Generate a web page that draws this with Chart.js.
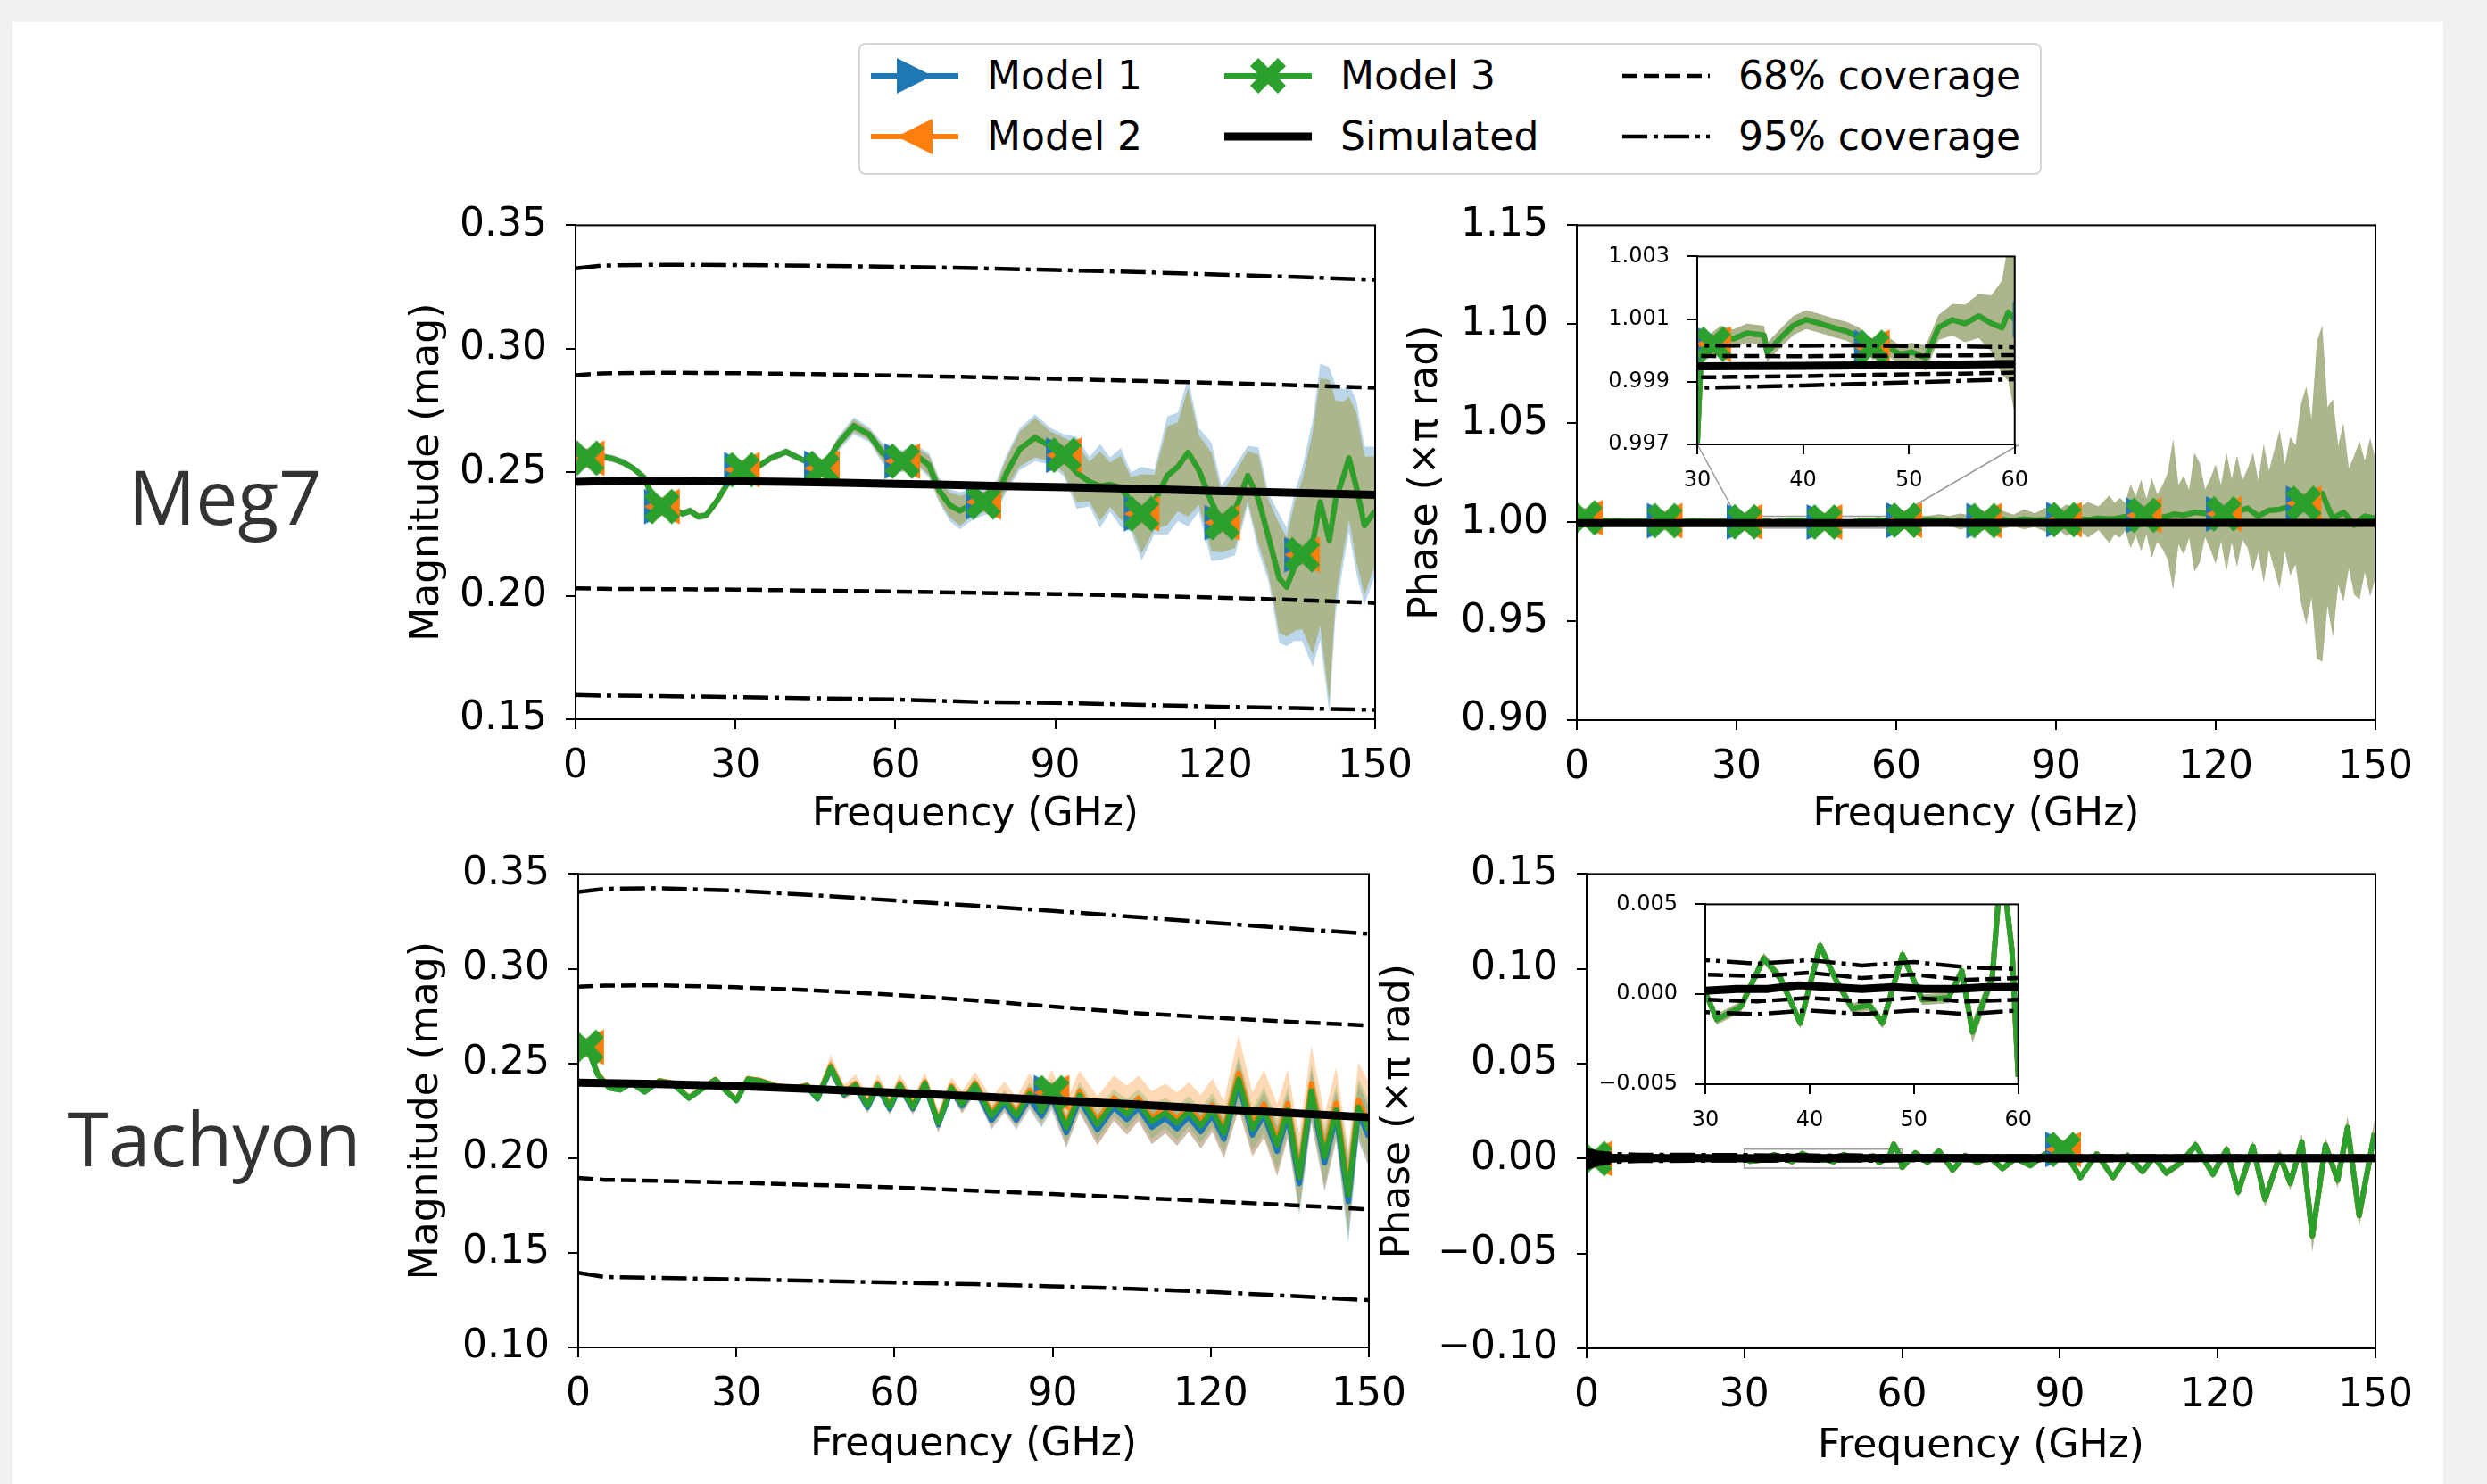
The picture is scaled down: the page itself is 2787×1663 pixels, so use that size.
<!DOCTYPE html>
<html lang="en">

<head>
    <meta charset="UTF-8">
    <title>Meg7 / Tachyon model comparison</title>
    <script src="https://cdn.jsdelivr.net/npm/chart.js"></script>
    <style>
        body { margin: 0; width: 2787px; height: 1663px; background: #f0f0f0; position: relative; overflow: hidden; font-family: "DejaVu Sans", sans-serif; }
        #sheet { position: absolute; left: 14px; top: 25px; width: 2724px; height: 1638px; background: #fff; }
        canvas.plot { position: absolute; }
        .rowlabel { position: absolute; font-family: "Open Sans", sans-serif; font-size: 84px; color: #333; transform: translate(-50%, -50%); white-space: nowrap; }
        #legend { position: absolute; left: 962px; top: 48px; width: 1322px; height: 144px; border: 2px solid #d6d6d6; border-radius: 8px; background: #fff; }
        #legend canvas { position: absolute; }
        #legend span { position: absolute; font-size: 44px; line-height: 1; transform: translateY(-50%); white-space: nowrap; color: #000; }
    </style>
</head>

<body>
    <div id="sheet"></div>
    <div class="rowlabel" style="left:252px; top:555px;">Meg7</div>
    <div class="rowlabel" style="left:240px; top:1274px;">Tachyon</div>
    <div id="legend"></div>

    <script>
        // ---- Meg7 magnitude (top left) ----
        const meg7MagFreq = [0, 2.1, 5, 7, 8.9, 10.8, 12.8, 14.7, 16.2, 18.1, 20.1, 21.5, 23, 24.5, 26.4, 28.4, 31.3, 34.2, 36.6, 39.5, 42.5, 46.4, 49.3, 52.2, 55.1, 57.5, 59.5, 61.4, 63.9, 66.3, 68.2, 70.2, 72.1, 74.1, 76.5, 79, 80.9, 83.3, 86.2, 89.1, 91.6, 94, 96.4, 98.4, 100.3, 102.3, 104.2, 106.2, 108.6, 111, 113, 114.9, 116.9, 119.3, 121.2, 123.7, 126.1, 128.1, 130, 132, 133.4, 134.9, 136.3, 138.3, 139.7, 141.4, 142.6, 144.1, 145.1, 146.5, 148, 150];
        const meg7MagModel3 = [0.258, 0.2557, 0.2563, 0.2555, 0.254, 0.2516, 0.248, 0.2391, 0.2361, 0.235, 0.2332, 0.2344, 0.232, 0.2326, 0.238, 0.245, 0.251, 0.2522, 0.2557, 0.2583, 0.2551, 0.2516, 0.2616, 0.2688, 0.2652, 0.258, 0.2545, 0.2545, 0.2569, 0.2528, 0.2427, 0.2367, 0.2344, 0.2367, 0.238, 0.2403, 0.2498, 0.2593, 0.264, 0.2605, 0.2569, 0.2498, 0.2462, 0.2444, 0.245, 0.2438, 0.238, 0.2332, 0.238, 0.2486, 0.2522, 0.258, 0.251, 0.238, 0.2296, 0.2344, 0.2486, 0.2391, 0.2237, 0.2071, 0.2035, 0.2118, 0.2166, 0.2213, 0.238, 0.2225, 0.2391, 0.2486, 0.2557, 0.2438, 0.2284, 0.2344];
        // models 1 and 2 sit right under model 3 in this panel
        const meg7MagModel1 = meg7MagModel3;
        const meg7MagModel2 = meg7MagModel3;
        const meg7MagSpread = [0.001, 0.001, 0.001, 0.001, 0.001, 0.001, 0.001, 0.001, 0.001, 0.001, 0.001, 0.001, 0.001, 0.001, 0.001, 0.001, 0.001, 0.001, 0.001, 0.001, 0.001, 0.0012,
            0.002, 0.0025, 0.002, 0.003, 0.003, 0.0035, 0.003, 0.004, 0.004, 0.005,
            0.006, 0.005, 0.004, 0.005, 0.006, 0.007, 0.008, 0.006, 0.007, 0.012,
            0.008, 0.014, 0.009, 0.013, 0.01, 0.016, 0.011, 0.02, 0.018, 0.026,
            0.014, 0.02, 0.012, 0.015, 0.01, 0.018, 0.015, 0.022, 0.02, 0.026,
            0.03, 0.045, 0.05, 0.065, 0.04, 0.03, 0.025, 0.03, 0.028, 0.022];
        // model 1 band is a little wider (light blue rim)
        const meg7MagSpread1 = [0.0015, 0.0015, 0.0015, 0.0015, 0.0015, 0.0015, 0.0015, 0.0015, 0.0015, 0.0015, 0.0015, 0.0015, 0.0015, 0.0015, 0.0015, 0.0015, 0.0015, 0.0015, 0.0015, 0.0015, 0.0015, 0.0017,
            0.003, 0.0035, 0.003, 0.004, 0.004, 0.0045, 0.004, 0.005, 0.005, 0.0065,
            0.0075, 0.0065, 0.0055, 0.0065, 0.0075, 0.0085, 0.0095, 0.0075, 0.0085, 0.0145,
            0.01, 0.017, 0.011, 0.016, 0.012, 0.019, 0.013, 0.024, 0.022, 0.03,
            0.017, 0.024, 0.015, 0.018, 0.012, 0.021, 0.018, 0.026, 0.024, 0.03,
            0.035, 0.05, 0.056, 0.07, 0.046, 0.035, 0.03, 0.035, 0.032, 0.026];
        const meg7MagMarkFreq = [2.1, 16.2, 31.2, 46.2, 61.3, 76.5, 91.6, 106.2, 121.3, 136.3];
        const meg7MagMarkVal = [0.2557, 0.2361, 0.251, 0.2516, 0.2545, 0.238, 0.2569, 0.2332, 0.2296, 0.2166];
        const meg7MagSimFreq = [0, 10, 20, 30, 40, 50, 60, 70, 80, 90, 100, 110, 120, 130, 140, 150];
        const meg7MagSim = [0.2461, 0.2466, 0.2466, 0.2464, 0.2461, 0.2457, 0.2453, 0.2449, 0.2444, 0.244, 0.2436, 0.243, 0.2424, 0.2419, 0.2414, 0.2409];
        const meg7MagCovFreq = [0, 5, 15, 30, 45, 60, 75, 90, 105, 120, 135, 150];
        const meg7MagCov95Hi = [0.3325, 0.3337, 0.334, 0.3339, 0.3336, 0.3332, 0.3326, 0.3319, 0.3311, 0.3301, 0.3291, 0.3279];
        const meg7MagCov68Hi = [0.2893, 0.29, 0.2903, 0.2901, 0.2897, 0.2891, 0.2885, 0.2878, 0.287, 0.2862, 0.2852, 0.2842];
        const meg7MagCov68Lo = [0.203, 0.2028, 0.2027, 0.2025, 0.2021, 0.2017, 0.2012, 0.2007, 0.2, 0.1993, 0.1983, 0.1971];
        const meg7MagCov95Lo = [0.1598, 0.1596, 0.1594, 0.159, 0.1585, 0.158, 0.157, 0.1566, 0.1559, 0.1551, 0.1545, 0.1538];

        // ---- Meg7 phase (top right, inset 30-60 GHz) ----
        const meg7PhFreq = [0, 2, 4, 6, 8, 10, 12, 14, 16, 18, 20, 22, 24, 26, 28,
            30, 30.4, 31.3, 32.2, 33.4, 34.7, 36.3, 36.6, 37.8, 39.1, 40.3, 41.6, 42.8, 44.1, 45.3, 46.6, 47.8, 49.1, 50.3, 51.6, 52.8, 54.1, 55.3, 56.6, 57.8, 58.8, 59.4, 60,
            62, 64, 66, 68, 70, 72, 74, 76, 78, 80, 82, 84, 86, 88, 90, 92, 94, 96, 98, 100,
            101, 102, 103, 104, 105, 106, 107, 108, 109, 110, 111, 112, 113, 114, 115, 116, 117, 118, 119, 120, 121, 122, 123, 124, 125,
            126, 127, 128, 129, 130, 131, 132, 133, 134, 135, 136, 137, 138, 139, 140, 141, 142, 143, 144, 145, 146, 147, 148, 149, 150];
        const meg7PhModel3 = [1.002, 1.003, 1.0012, 1.0008, 1.0006, 1.0005, 1.0005, 1.0006, 1.0008, 1.0006, 1.0005, 1.0006, 1.0005, 1.0004, 1.0004,
            0.99706, 1.00012, 1.00024, 1.00049, 1.00037, 1.00055, 1.00049, 0.99994, 1.00037, 1.0008, 1.00098, 1.00086, 1.00073, 1.00061, 1.00043, 1.0, 1.00018, 0.99988, 0.99994, 0.99976, 1.00073, 1.00098, 1.00086, 1.0011, 1.00086, 1.00073, 1.00122, 1.00098,
            1.001, 1.0008, 1.0012, 1.001, 1.0006, 1.0004, 1.0005, 1.0008, 1.001, 1.0012, 1.0008, 1.0015, 1.001, 1.0012, 1.0015, 1.001, 1.0018, 1.0012, 1.002, 1.0015,
            1.0018, 1.0022, 1.0028, 1.003, 1.0032, 1.0035, 1.0028, 1.002, 1.0022, 1.0025, 1.003, 1.004, 1.0038, 1.0035, 1.0042, 1.005, 1.0048, 1.0045, 1.0042, 1.004, 1.0045, 1.005, 1.0058, 1.0055, 1.0062,
            1.007, 1.005, 1.003, 1.0045, 1.006, 1.0062, 1.0065, 1.0072, 1.008, 1.0088, 1.0095, 1.0085, 1.007, 1.011, 1.0145, 1.008, 1.002, 1.0035, 1.005, 1.002, 0.9985, 1.001, 1.003, 1.0025, 1.002];
        const meg7PhModel1 = meg7PhModel3;
        const meg7PhModel2 = meg7PhModel3;
        const meg7PhSpread = [0.0008, 0.0008, 0.0006, 0.0005, 0.0005, 0.0005, 0.0005, 0.0005, 0.0005, 0.0005, 0.0005, 0.0005, 0.0005, 0.0005, 0.0005,
            0.0003, 0.0003, 0.0003, 0.0003, 0.0003, 0.0003, 0.0003, 0.0003, 0.0003, 0.0003, 0.0003, 0.0003, 0.0003, 0.0003, 0.0003, 0.0003, 0.0003, 0.0003, 0.0003, 0.0004, 0.0004, 0.0005, 0.0006, 0.0007, 0.0009, 0.0015, 0.0022, 0.003,
            0.0015, 0.0025, 0.002, 0.003, 0.0025, 0.004, 0.003, 0.005, 0.003, 0.0045, 0.003, 0.005, 0.0035, 0.006, 0.004, 0.008, 0.005, 0.009, 0.006, 0.012,
            0.008, 0.01, 0.007, 0.016, 0.01, 0.018, 0.009, 0.02, 0.012, 0.016, 0.022, 0.038, 0.015, 0.02, 0.012, 0.03, 0.025, 0.012, 0.018, 0.025, 0.014, 0.03, 0.016, 0.028, 0.015,
            0.02, 0.03, 0.018, 0.035, 0.02, 0.03, 0.04, 0.022, 0.035, 0.03, 0.05, 0.06, 0.045, 0.08, 0.085, 0.05, 0.06, 0.035, 0.045, 0.025, 0.035, 0.04, 0.028, 0.04, 0.03];
        const meg7PhMarkFreq = [1.5, 16.5, 31.5, 46.5, 61.5, 76.5, 91.5, 106.5, 121.5, 136.5];
        const meg7PhMarkVal = [1.0022, 1.0008, 1.0002, 1.0001, 1.001, 1.0008, 1.0013, 1.0035, 1.0042, 1.0095];
        const meg7PhCovFreq = [0, 30, 35, 40, 45, 50, 55, 60, 90, 120, 150];
        const meg7PhSim = [0.9995, 0.99949, 0.9995, 0.99951, 0.99952, 0.99954, 0.99955, 0.99957, 0.9996, 0.99962, 0.99964];
        const meg7PhCov95Hi = [1.0002, 1.00015, 1.00016, 1.00015, 1.00016, 1.00014, 1.00013, 1.0001, 1.0001, 1.0001, 1.0001];
        const meg7PhCov68Hi = [0.9999, 0.99982, 0.99982, 0.99981, 0.99983, 0.99983, 0.99984, 0.99985, 0.99986, 0.99987, 0.99988];
        const meg7PhCov68Lo = [0.9991, 0.99914, 0.99916, 0.99918, 0.99921, 0.99924, 0.99926, 0.99929, 0.99935, 0.9994, 0.99945];
        const meg7PhCov95Lo = [0.9988, 0.9988, 0.99884, 0.99888, 0.99893, 0.99898, 0.99903, 0.99908, 0.9992, 0.9993, 0.9994];

        // ---- Tachyon magnitude (bottom left) ----
        const tachMagFreq = [0, 2, 3.7, 5.9, 7.9, 10.1, 12.6, 15.4, 17.9, 21, 23.5, 26, 28.3, 30, 32.2, 34.5, 37.8, 41.2, 43.4, 45.4, 47.9, 50.4, 52.6, 54.9, 56.8, 59.1, 61, 63.5, 65.8, 68.3, 70.8, 72.8, 75.3, 78.4, 80.9, 83.1, 85.6, 87.9, 89.8, 92.6, 95.1, 98.5, 101.6, 104.1, 106.3, 108.8, 111.4, 113.6, 115.8, 118.1, 120.3, 122.5, 125.3, 127.9, 130.1, 132.6, 134.6, 136.8, 139.1, 141.6, 143.8, 146.1, 148, 150];
        const tachMagModel3 = [0.2596, 0.2565, 0.244, 0.2371, 0.236, 0.2397, 0.235, 0.2407, 0.2394, 0.2317, 0.2366, 0.2413, 0.2348, 0.2304, 0.2417, 0.2407, 0.2376, 0.2366, 0.2382, 0.2317,
            0.248, 0.234, 0.2386, 0.2278, 0.2386, 0.227, 0.2386, 0.227, 0.2394, 0.2185, 0.2371, 0.2286, 0.2386,
            0.2224, 0.2309, 0.2224, 0.234, 0.2247, 0.2348, 0.2162, 0.2332, 0.2177, 0.2294, 0.2232, 0.2294, 0.2193, 0.2239, 0.2185, 0.2247, 0.217, 0.2255, 0.2131, 0.2417, 0.2154, 0.2255, 0.2069, 0.2255, 0.1899, 0.2356, 0.2007, 0.2255, 0.1806, 0.227, 0.2146];
        const tachMagModel1 = [0.2596, 0.2565, 0.244, 0.2371, 0.236, 0.2397, 0.235, 0.2407, 0.2394, 0.2317, 0.2366, 0.2413, 0.2348, 0.2304, 0.2417, 0.2407, 0.2372, 0.2362, 0.2378, 0.2312,
            0.2472, 0.2333, 0.2378, 0.2268, 0.2377, 0.226, 0.2377, 0.2261, 0.2385, 0.2175, 0.2361, 0.2276, 0.2375,
            0.22, 0.229, 0.22, 0.2318, 0.2222, 0.2325, 0.2135, 0.2308, 0.215, 0.2268, 0.2204, 0.2266, 0.2163, 0.221, 0.2155, 0.2218, 0.214, 0.2225, 0.21, 0.239, 0.2122, 0.2228, 0.2036, 0.2225, 0.1866, 0.2325, 0.1975, 0.2222, 0.177, 0.224, 0.211];
        const tachMagModel2 = [0.26, 0.257, 0.2445, 0.2373, 0.2362, 0.2399, 0.2352, 0.2409, 0.2396, 0.2319, 0.2368, 0.2415, 0.235, 0.2306, 0.242, 0.241, 0.238, 0.237, 0.2386, 0.2321,
            0.2488, 0.2346, 0.2393, 0.2284, 0.2394, 0.2277, 0.2395, 0.2277, 0.2402, 0.2192, 0.238, 0.2294, 0.2396,
            0.224, 0.2325, 0.224, 0.2358, 0.2265, 0.2368, 0.218, 0.2352, 0.2196, 0.2316, 0.2252, 0.2316, 0.2214, 0.2262, 0.2206, 0.227, 0.2192, 0.228, 0.2152, 0.245, 0.2178, 0.2285, 0.2094, 0.2288, 0.1925, 0.2392, 0.2033, 0.229, 0.1832, 0.2305, 0.2178];
        const tachMagSpread = [0.001, 0.001, 0.001, 0.001, 0.001, 0.001, 0.001, 0.001, 0.001, 0.001, 0.001, 0.001, 0.001, 0.001, 0.001, 0.001, 0.001, 0.001, 0.001, 0.001,
            0.004, 0.002, 0.003, 0.003, 0.003, 0.003, 0.003, 0.003, 0.003, 0.004, 0.003, 0.004, 0.004,
            0.005, 0.005, 0.005, 0.006, 0.006, 0.007, 0.008, 0.007, 0.008, 0.007, 0.008, 0.007, 0.009, 0.008, 0.009, 0.008, 0.009, 0.009, 0.01, 0.013, 0.011, 0.012, 0.013, 0.012, 0.017, 0.014, 0.015, 0.013, 0.022, 0.015, 0.016];
        const tachMagSpread2 = [0.0015, 0.0015, 0.0015, 0.0015, 0.0015, 0.0015, 0.0015, 0.0015, 0.0015, 0.0015, 0.0015, 0.0015, 0.0015, 0.0015, 0.0015, 0.0015, 0.0015, 0.0015, 0.0015, 0.0015,
            0.006, 0.004, 0.005, 0.005, 0.005, 0.005, 0.005, 0.005, 0.005, 0.006, 0.005, 0.006, 0.006,
            0.008, 0.008, 0.008, 0.009, 0.009, 0.01, 0.012, 0.011, 0.013, 0.012, 0.013, 0.012, 0.014, 0.013, 0.014, 0.013, 0.014, 0.014, 0.015, 0.02, 0.017, 0.018, 0.019, 0.018, 0.02, 0.02, 0.02, 0.019, 0.022, 0.02, 0.022];
        const tachMagMarkFreq = [1.5, 89.8];
        const tachMagMarkVal = [0.2585, 0.2345];
        const tachMagSimFreq = [0, 15, 30, 45, 60, 75, 90, 105, 120, 135, 150];
        const tachMagSim = [0.2398, 0.2391, 0.238, 0.2364, 0.2345, 0.2326, 0.2305, 0.2284, 0.226, 0.2238, 0.2215];
        const tachMagCovFreq = [0, 5, 15, 30, 45, 60, 75, 90, 105, 120, 135, 150];
        const tachMagCov95Hi = [0.3405, 0.3422, 0.3425, 0.3412, 0.3388, 0.336, 0.3333, 0.3305, 0.3275, 0.3243, 0.3213, 0.3184];
        const tachMagCov68Hi = [0.2905, 0.291, 0.2912, 0.2902, 0.2885, 0.2862, 0.2833, 0.28, 0.2767, 0.2742, 0.272, 0.27];
        const tachMagCov68Lo = [0.1895, 0.1885, 0.188, 0.187, 0.1858, 0.1845, 0.1828, 0.181, 0.1792, 0.1772, 0.1752, 0.1729];
        const tachMagCov95Lo = [0.1395, 0.1372, 0.1368, 0.136, 0.1352, 0.1343, 0.1334, 0.1323, 0.131, 0.1293, 0.1272, 0.1249];

        // ---- Tachyon phase (bottom right, inset 30-60 GHz) ----
        const tachPhFreq = [0, 2, 4, 6, 8, 10, 12, 14, 16, 18, 20, 22, 24, 26, 28,
            30, 31.1, 33.4, 35.6, 37.2, 39.1, 41, 42.6, 44.1, 45.7, 47, 48.9, 50.8, 53.3, 54.6, 55.6, 57.5, 58.4, 59.4, 60,
            62.5, 64.8, 67, 69.6, 72, 74.3,
            76.6, 79.1, 81.6, 84.4, 87.2, 90.6, 93.9, 97, 100.1, 102.9, 105.7, 107.9, 110.2, 113, 115.8, 119.1, 121.7, 123.9, 126.7, 129, 130.4, 131.8, 133.8, 136, 138, 140.5, 142.8, 144.7, 146.9, 149.8];
        const tachPhModel3 = [0, 0.0005, -0.0005, 0.0008, -0.0004, 0.0006, -0.0006, 0.0004, -0.0003, 0.0007, -0.0005, 0.0004, -0.0006, 0.0005, -0.0004,
            0.0001, -0.0014, -0.0007, 0.002, 0.0009, -0.0016, 0.0027, 0.0007, -0.0008, -0.0006, -0.0016, 0.0022, -0.0003, -0.0002, 0.0013, -0.0021, 0.0009, 0.0075, 0.0024, -0.0046,
            0.003, -0.002, 0.004, -0.006, 0.0017, -0.0021,
            0.0009, -0.0052, 0.0002, -0.0037, 0.0025, 0.0048, -0.0099, 0.0025, -0.0099, 0.0017, -0.0068, 0.0009, -0.0076, -0.0021, 0.0071, -0.0083, 0.0048, -0.0176, 0.0064, -0.0215, -0.0099, 0.0017, -0.013, 0.0087, -0.0408, 0.0071, -0.0114, 0.0164, -0.03, 0.0133];
        const tachPhModel1 = tachPhModel3;
        const tachPhModel2 = tachPhModel3;
        const tachPhSpread = [0.0004, 0.0004, 0.0004, 0.0004, 0.0004, 0.0004, 0.0004, 0.0004, 0.0004, 0.0004, 0.0004, 0.0004, 0.0004, 0.0004, 0.0004,
            0.0003, 0.0003, 0.0003, 0.0003, 0.0003, 0.0003, 0.0003, 0.0003, 0.0003, 0.0003, 0.0003, 0.0003, 0.0003, 0.0003, 0.0004, 0.0006, 0.0005, 0.0008, 0.0006, 0.001,
            0.0008, 0.0008, 0.0008, 0.0008, 0.0008, 0.0008,
            0.001, 0.001, 0.001, 0.001, 0.0012, 0.0012, 0.0015, 0.0012, 0.0015, 0.0012, 0.0015, 0.0015, 0.002, 0.002, 0.0025, 0.0022, 0.0025, 0.003, 0.003, 0.004, 0.003, 0.003, 0.0035, 0.004, 0.008, 0.004, 0.004, 0.006, 0.006, 0.007];
        const tachPhMarkFreq = [1.5, 90.6];
        const tachPhMarkVal = [0, 0.0048];
        const tachPhSimFreq = [0, 10, 20, 30, 33, 36, 39, 42, 45, 48, 51, 54, 57, 60, 90, 120, 150];
        const tachPhSim = [0.0003, 0.0003, 0.0003, 0.0002, 0.0003, 0.0003, 0.0005, 0.0004, 0.0003, 0.0004, 0.0003, 0.0003, 0.0004, 0.0004, 0.0003, 0.0003, 0.0003];
        const tachPhCovFreq = [0, 2, 5, 10, 20, 30, 35, 40, 45, 50, 55, 60, 75, 90, 105, 120, 135, 150];
        const tachPhCov95Hi = [0.0045, 0.0032, 0.0025, 0.0021, 0.002, 0.0019, 0.0017, 0.0019, 0.0016, 0.0018, 0.0015, 0.0014, 0.0014, 0.0013, 0.0013, 0.0012, 0.0012, 0.0012];
        const tachPhCov68Hi = [0.003, 0.0022, 0.0016, 0.0013, 0.0012, 0.0011, 0.001, 0.0012, 0.0009, 0.0011, 0.0008, 0.0009, 0.0009, 0.0009, 0.0008, 0.0008, 0.0008, 0.0008];
        const tachPhCov68Lo = [-0.003, -0.0018, -0.001, -0.0006, -0.0004, -0.0003, -0.0004, -0.0002, -0.0004, -0.0002, -0.0004, -0.0003, -0.0003, -0.0003, -0.0003, -0.0002, -0.0002, -0.0002];
        const tachPhCov95Lo = [-0.005, -0.003, -0.0018, -0.0013, -0.0011, -0.001, -0.0011, -0.0009, -0.0011, -0.0009, -0.0011, -0.0009, -0.0009, -0.0009, -0.0008, -0.0008, -0.0008, -0.0008];

        // ---- styling ----
        const FONT = '"DejaVu Sans", sans-serif';
        const BLUE = '#1f77b4', ORANGE = '#ff7f0e', GREEN = '#2ca02c';
        const LW_MODEL = 6, LW_SIM = 9, LW_COV = 4.5;
        const DASH = [17, 7], DASHDOT = [28, 7, 5, 7];
        const MARK = 40;

        function markerCanvas(kind, color) {
            const c = document.createElement('canvas');
            c.width = c.height = MARK + 2;
            const g = c.getContext('2d');
            const h = MARK / 2;
            g.translate(c.width / 2, c.height / 2);
            g.fillStyle = color;
            g.beginPath();
            if (kind === '>') {
                g.moveTo(h, 0); g.lineTo(-h, -h); g.lineTo(-h, h);
            } else if (kind === '<') {
                g.moveTo(-h, 0); g.lineTo(h, -h); g.lineTo(h, h);
            } else {
                const w = MARK * 0.16, a = h * Math.SQRT2 - w;
                g.rotate(Math.PI / 4);
                g.moveTo(-w, -a); g.lineTo(w, -a); g.lineTo(w, -w); g.lineTo(a, -w); g.lineTo(a, w); g.lineTo(w, w);
                g.lineTo(w, a); g.lineTo(-w, a); g.lineTo(-w, w); g.lineTo(-a, w); g.lineTo(-a, -w); g.lineTo(-w, -w);
            }
            g.closePath();
            g.fill();
            return c;
        }
        const IMG = { m1: markerCanvas('>', BLUE), m2: markerCanvas('<', ORANGE), m3: markerCanvas('X', GREEN) };

        const pts = (fs, vs) => fs.map((f, i) => ({ x: f, y: vs[i] }));

        function line(fs, vs, color, width, dash, order) {
            return { data: pts(fs, vs), borderColor: color, borderWidth: width, borderDash: dash, pointRadius: 0, fill: false, order, clip: 0 };
        }
        function band(fs, mid, spread, color, order) {
            const lo = { data: fs.map((f, i) => ({ x: f, y: mid[i] - spread[i] })), borderWidth: 0, pointRadius: 0, fill: false, order, clip: 0 };
            const hi = { data: fs.map((f, i) => ({ x: f, y: mid[i] + spread[i] })), borderWidth: 0, pointRadius: 0, fill: '-1', backgroundColor: color, order, clip: 0 };
            return [lo, hi];
        }
        function marks(fs, vs, img, order) {
            return { data: pts(fs, vs), showLine: false, pointStyle: img, pointRadius: 20, order, clip: 0 };
        }

        // bands drawn model 1, 2, 3 (bottom to top), then lines, markers, coverage and simulated on top
        function seriesSets(d) {
            return [
                ...band(d.freq, d.m1, d.s1, 'rgba(31,119,180,0.3)', 10),
                ...band(d.freq, d.m2, d.s2, 'rgba(255,127,14,0.3)', 9),
                ...band(d.freq, d.m3, d.s3, 'rgba(44,160,44,0.22)', 8),
                line(d.freq, d.m1, BLUE, LW_MODEL, [], 7),
                line(d.freq, d.m2, ORANGE, LW_MODEL, [], 6),
                line(d.freq, d.m3, GREEN, LW_MODEL, [], 5),
                marks(d.markF, d.markV, IMG.m1, 4),
                marks(d.markF, d.markV, IMG.m2, 3),
                marks(d.markF, d.markV, IMG.m3, 2),
                line(d.covF, d.c95h, '#000', LW_COV, DASHDOT, 1),
                line(d.covF, d.c68h, '#000', LW_COV, DASH, 1),
                line(d.covF, d.c68l, '#000', LW_COV, DASH, 1),
                line(d.covF, d.c95l, '#000', LW_COV, DASHDOT, 1),
                line(d.simF, d.sim, '#000', LW_SIM, [], 0)
            ];
        }

        const meg7Mag = { freq: meg7MagFreq, m1: meg7MagModel1, m2: meg7MagModel2, m3: meg7MagModel3, s1: meg7MagSpread1, s2: meg7MagSpread, s3: meg7MagSpread, markF: meg7MagMarkFreq, markV: meg7MagMarkVal, simF: meg7MagSimFreq, sim: meg7MagSim, covF: meg7MagCovFreq, c95h: meg7MagCov95Hi, c68h: meg7MagCov68Hi, c68l: meg7MagCov68Lo, c95l: meg7MagCov95Lo };
        const meg7Ph = { freq: meg7PhFreq, m1: meg7PhModel1, m2: meg7PhModel2, m3: meg7PhModel3, s1: meg7PhSpread, s2: meg7PhSpread, s3: meg7PhSpread, markF: meg7PhMarkFreq, markV: meg7PhMarkVal, simF: meg7PhCovFreq, sim: meg7PhSim, covF: meg7PhCovFreq, c95h: meg7PhCov95Hi, c68h: meg7PhCov68Hi, c68l: meg7PhCov68Lo, c95l: meg7PhCov95Lo };
        const tachMag = { freq: tachMagFreq, m1: tachMagModel1, m2: tachMagModel2, m3: tachMagModel3, s1: tachMagSpread, s2: tachMagSpread2, s3: tachMagSpread, markF: tachMagMarkFreq, markV: tachMagMarkVal, simF: tachMagSimFreq, sim: tachMagSim, covF: tachMagCovFreq, c95h: tachMagCov95Hi, c68h: tachMagCov68Hi, c68l: tachMagCov68Lo, c95l: tachMagCov95Lo };
        const tachPh = { freq: tachPhFreq, m1: tachPhModel1, m2: tachPhModel2, m3: tachPhModel3, s1: tachPhSpread, s2: tachPhSpread, s3: tachPhSpread, markF: tachPhMarkFreq, markV: tachPhMarkVal, simF: tachPhSimFreq, sim: tachPhSim, covF: tachPhCovFreq, c95h: tachPhCov95Hi, c68h: tachPhCov68Hi, c68l: tachPhCov68Lo, c95l: tachPhCov95Lo };

        const fmtN = n => v => {
            if (Math.abs(v) < 1e-9) v = 0;
            return (v < 0 ? '\u2212' : '') + Math.abs(v).toFixed(n);
        };

        // full box around the plot area, like matplotlib spines
        const frame = {
            id: 'frame',
            afterDatasetsDraw(c) {
                const a = c.chartArea, g = c.ctx;
                g.save(); g.strokeStyle = '#000'; g.lineWidth = 2;
                g.strokeRect(a.left, a.top, a.right - a.left, a.bottom - a.top);
                g.restore();
            }
        };
        const whiteBg = {
            id: 'whiteBg',
            beforeDraw(c) {
                const a = c.chartArea, g = c.ctx;
                g.save(); g.fillStyle = '#fff';
                g.fillRect(a.left, a.top, a.right - a.left, a.bottom - a.top);
                g.restore();
            }
        };
        // zoom rectangle on the parent axes (+ connector lines to the inset corners)
        function zoomBox(x0, x1, y0, y1, links) {
            return {
                id: 'zoomBox',
                beforeDatasetsDraw(c) {
                    const g = c.ctx, sx = c.scales.x, sy = c.scales.y;
                    const L = sx.getPixelForValue(x0), R = sx.getPixelForValue(x1);
                    const T = sy.getPixelForValue(y1), B = sy.getPixelForValue(y0);
                    const ox = c.canvas.offsetLeft, oy = c.canvas.offsetTop;
                    g.save(); g.strokeStyle = '#9a9a9a'; g.lineWidth = 1.5;
                    g.strokeRect(L, T, R - L, B - T);
                    links.forEach(([px, py, side]) => {
                        g.beginPath(); g.moveTo(px - ox, py - oy); g.lineTo(side === 'l' ? L : R, T); g.stroke();
                    });
                    g.restore();
                }
            };
        }

        function buildPanel(p) {
            const [l, t, r, b] = p.box;
            const left = l - p.yw, top = t - p.pt;
            const cv = document.createElement('canvas');
            cv.className = 'plot';
            cv.width = r - l + p.yw + p.pr;
            cv.height = b - t + p.pt + p.xh;
            cv.style.left = left + 'px';
            cv.style.top = top + 'px';
            document.body.appendChild(cv);
            const font = { family: FONT, size: p.fs, lineHeight: 1.2 };
            const half = p.fs * 0.6;
            const tickGrid = { drawOnChartArea: false, drawTicks: true, tickLength: 11, tickWidth: 2, color: '#000', lineWidth: 2 };
            return new Chart(cv, {
                type: 'line',
                data: { datasets: p.datasets },
                options: {
                    responsive: false,
                    animation: false,
                    devicePixelRatio: 1,
                    events: [],
                    layout: { padding: { left: 0, top: p.pt, right: p.pr, bottom: 0 } },
                    plugins: { legend: { display: false }, tooltip: { enabled: false } },
                    elements: { line: { tension: 0, borderJoinStyle: 'round', borderCapStyle: 'butt' }, point: { radius: 0, hoverRadius: 0 } },
                    scales: {
                        x: {
                            type: 'linear', min: p.x[0], max: p.x[1],
                            ticks: { stepSize: p.x[2], font, color: '#000', padding: p.padX, maxRotation: 0, minRotation: 0, autoSkip: false, callback: v => String(v) },
                            grid: tickGrid,
                            border: { display: true, color: '#000', width: 2 },
                            title: p.xTitleY ? { display: true, text: 'Frequency (GHz)', font, color: '#000', padding: { top: 0, bottom: b + p.xh - p.xTitleY - half } } : { display: false },
                            afterFit: s => { s.height = p.xh; }
                        },
                        y: {
                            type: 'linear', min: p.y[0], max: p.y[1],
                            ticks: { stepSize: p.y[2], font, color: '#000', padding: p.padY, autoSkip: false, callback: p.fmt },
                            grid: tickGrid,
                            border: { display: true, color: '#000', width: 2 },
                            title: p.yTitle ? { display: true, text: p.yTitle, font, color: '#000', padding: { top: p.yTitleX - left - half, bottom: 0 } } : { display: false },
                            afterFit: s => { s.width = p.yw; }
                        }
                    }
                },
                plugins: p.plugins
            });
        }

        const MAIN = { fs: 44, yw: 250, pt: 40, pr: 50, xh: 140, padX: 16, padY: 21, x: [0, 150, 30] };
        const INSET = { fs: 24, pt: 20, pr: 25, xh: 70, padX: 15, padY: 20, x: [30, 60, 10] };

        const insetTR = [1902, 273, 2263, 498];
        const insetBR = [1911, 999, 2267, 1215];

        buildPanel({ ...MAIN, box: [645, 245, 1549, 806], y: [0.15, 0.35, 0.05], fmt: fmtN(2), yTitle: 'Magnitude (mag)', yTitleX: 480, xTitleY: 914, datasets: seriesSets(meg7Mag), plugins: [frame] });
        buildPanel({ ...MAIN, box: [1767, 245, 2670, 807], y: [0.9, 1.15, 0.05], fmt: fmtN(2), yTitle: 'Phase (×π rad)', yTitleX: 1599, xTitleY: 914, datasets: seriesSets(meg7Ph), plugins: [frame, zoomBox(30, 60, 0.997, 1.003, [[insetTR[0], insetTR[3], 'l'], [insetTR[2], insetTR[3], 'r']])] });
        buildPanel({ ...INSET, yw: 120, box: insetTR, y: [0.997, 1.003, 0.002], fmt: fmtN(3), datasets: seriesSets(meg7Ph), plugins: [whiteBg, frame] });
        buildPanel({ ...MAIN, box: [648, 972, 1542, 1510], y: [0.1, 0.35, 0.05], fmt: fmtN(2), yTitle: 'Magnitude (mag)', yTitleX: 479, xTitleY: 1620, datasets: seriesSets(tachMag), plugins: [frame] });
        buildPanel({ ...MAIN, box: [1778, 972, 2670, 1511], y: [-0.1, 0.15, 0.05], fmt: fmtN(2), yTitle: 'Phase (×π rad)', yTitleX: 1568, xTitleY: 1622, datasets: seriesSets(tachPh), plugins: [frame, zoomBox(30, 60, -0.005, 0.005, [])] });
        buildPanel({ ...INSET, yw: 140, box: insetBR, y: [-0.005, 0.005, 0.005], fmt: fmtN(3), datasets: seriesSets(tachPh), plugins: [whiteBg, frame] });

        // ---- legend (3 columns, filled column-wise like matplotlib) ----
        const legendItems = [
            { label: 'Model 1', kind: 'm1', col: 0, row: 0 },
            { label: 'Model 2', kind: 'm2', col: 0, row: 1 },
            { label: 'Model 3', kind: 'm3', col: 1, row: 0 },
            { label: 'Simulated', kind: 'sim', col: 1, row: 1 },
            { label: '68% coverage', kind: 'c68', col: 2, row: 0 },
            { label: '95% coverage', kind: 'c95', col: 2, row: 1 }
        ];
        const legendHandleX = [12, 408, 854];
        const legendTextX = [142, 538, 984];
        const legendRowY = [35, 103];
        const legendBox = document.getElementById('legend');
        legendItems.forEach(it => {
            const cv = document.createElement('canvas');
            cv.width = 98; cv.height = 48;
            cv.style.left = legendHandleX[it.col] + 'px';
            cv.style.top = (legendRowY[it.row] - 24) + 'px';
            const g = cv.getContext('2d');
            const colors = { m1: BLUE, m2: ORANGE, m3: GREEN };
            g.beginPath(); g.moveTo(0, 24); g.lineTo(98, 24);
            if (colors[it.kind]) {
                g.strokeStyle = colors[it.kind]; g.lineWidth = LW_MODEL; g.stroke();
                const img = IMG[it.kind];
                g.drawImage(img, 49 - img.width / 2, 24 - img.height / 2);
            } else {
                g.strokeStyle = '#000';
                g.lineWidth = it.kind === 'sim' ? LW_SIM : LW_COV;
                if (it.kind === 'c68') g.setLineDash(DASH);
                if (it.kind === 'c95') g.setLineDash(DASHDOT);
                g.stroke();
            }
            legendBox.appendChild(cv);
            const sp = document.createElement('span');
            sp.textContent = it.label;
            sp.style.left = legendTextX[it.col] + 'px';
            sp.style.top = legendRowY[it.row] + 'px';
            legendBox.appendChild(sp);
        });
    </script>
</body>

</html>
